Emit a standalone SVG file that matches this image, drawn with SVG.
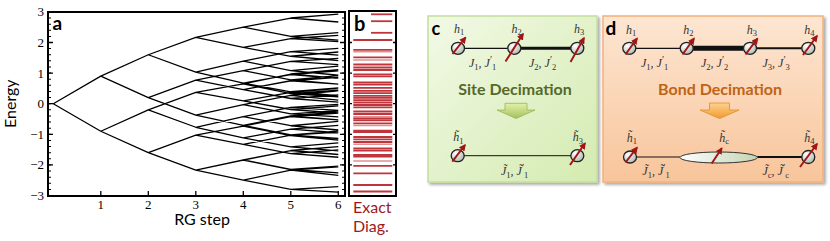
<svg xmlns="http://www.w3.org/2000/svg" width="830" height="241" viewBox="0 0 830 241">
<style>
.ax{fill:none;stroke:#000;stroke-width:2}
.tree{fill:none;stroke:#000;stroke-width:1.3;stroke-linejoin:round}
.tk{font-family:"Liberation Serif",serif;font-size:13px;fill:#000}
.lab{font-family:Lato,"Liberation Sans",sans-serif;font-size:16px;fill:#000}
.red{fill:#a0181b}
.pl{font-family:Lato,"Liberation Sans",sans-serif;font-weight:bold;fill:#000}
.ex{stroke:#b3131b;stroke-width:1.8;opacity:.85}
.exl{stroke:#c9474d;stroke-width:1.6;opacity:.6}
.m{font-family:"Liberation Serif",serif;font-style:italic;font-size:12px;fill:#333}
.s{font-style:normal;font-size:8.5px}
.p{font-style:normal;font-size:10px}
.spin{fill:url(#sg);stroke:#222;stroke-width:1.3}
.arr{stroke:#a31515;stroke-width:2;marker-end:url(#ah)}
.bond{fill:none;stroke:#111}
</style>
<defs>
<marker id="ah" markerUnits="userSpaceOnUse" viewBox="0 0 10 10" markerWidth="7" markerHeight="7" refX="8" refY="5" orient="auto"><path d="M0,0L10,5L0,10z" fill="#a31515"/></marker>
<radialGradient id="sg" cx="0.35" cy="0.3" r="0.8"><stop offset="0" stop-color="#ffffff"/><stop offset="1" stop-color="#aab4aa"/></radialGradient>
<linearGradient id="eg" x1="0" y1="0" x2="1" y2="0"><stop offset="0" stop-color="#ffffff"/><stop offset="1" stop-color="#c3d4b3"/></linearGradient>
<linearGradient id="gc" x1="0" y1="0" x2="1" y2="1"><stop offset="0" stop-color="#f2f9e6"/><stop offset="1" stop-color="#d4ebb0"/></linearGradient>
<linearGradient id="gd" x1="0" y1="0" x2="0" y2="1"><stop offset="0" stop-color="#fde6d2"/><stop offset="1" stop-color="#f8c59b"/></linearGradient>
<linearGradient id="ga" x1="0" y1="0" x2="0" y2="1"><stop offset="0" stop-color="#e4f0aa"/><stop offset="1" stop-color="#a3c15c"/></linearGradient>
<linearGradient id="oa" x1="0" y1="0" x2="0" y2="1"><stop offset="0" stop-color="#fcd38f"/><stop offset="1" stop-color="#f29a30"/></linearGradient>
<filter id="sh" x="-5%" y="-5%" width="115%" height="115%"><feGaussianBlur in="SourceAlpha" stdDeviation="1.5"/><feOffset dx="1.5" dy="2" result="o"/><feComponentTransfer><feFuncA type="linear" slope="0.35"/></feComponentTransfer><feMerge><feMergeNode/><feMergeNode in="SourceGraphic"/></feMerge></filter>
</defs>
<rect width="830" height="241" fill="#fff"/>

<g id="panel-a">
<rect class="ax" x="48" y="12" width="297" height="184"/>
<path fill="none" stroke="#000" stroke-width="1.3" d="M48,42.5h5M48,73.1h5M48,103.7h5M48,134.3h5M48,164.9h5M345,42.5h-5M345,73.1h-5M345,103.7h-5M345,134.3h-5M345,164.9h-5M100.8,196v-5M148.3,196v-5M195.8,196v-5M243.3,196v-5M290.8,196v-5M338.3,196v-5"/>
<line x1="49.5" y1="11.4" x2="49.5" y2="196" stroke="#000" stroke-width="3" stroke-dasharray="1 5.12"/>
<line x1="343.5" y1="11.4" x2="343.5" y2="196" stroke="#000" stroke-width="3" stroke-dasharray="1 5.12"/>
<g class="tk" text-anchor="end">
<text x="44" y="16.4">3</text><text x="44" y="47">2</text><text x="44" y="77.6">1</text><text x="44" y="108.2">0</text><text x="44" y="138.8">−1</text><text x="44" y="169.4">−2</text><text x="44" y="199.5">−3</text>
</g>
<g class="tk" text-anchor="middle" font-size="12.5">
<text x="100.8" y="209">1</text><text x="148.3" y="209">2</text><text x="195.8" y="209">3</text><text x="243.3" y="209">4</text><text x="290.8" y="209">5</text><text x="338.3" y="209">6</text>
</g>
<text class="lab" x="202" y="225" text-anchor="middle">RG step</text>
<text class="lab" transform="translate(15.5,103.7) rotate(-90)" text-anchor="middle">Energy</text>
<text class="pl" x="52.5" y="30" font-size="19">a</text>
<path class="tree" d="M100.8,76.16 L53.3,103.7 L100.8,131.24
M148.3,54.74 L100.8,76.16 L148.3,97.58 M148.3,109.82 L100.8,131.24 L148.3,152.66
M195.8,37.3 L148.3,54.74 L195.8,72.18 M195.8,80.14 L148.3,97.58 L195.8,115.02 M195.8,92.38 L148.3,109.82 L195.8,127.26 M195.8,135.22 L148.3,152.66 L195.8,170.1
M243.3,27.2 L195.8,37.3 L243.3,47.4 M243.3,61.17 L195.8,72.18 L243.3,83.2 M243.3,70.65 L195.8,80.14 L243.3,89.62 M243.3,104.62 L195.8,115.02 L243.3,125.43 M243.3,83.81 L195.8,92.38 L243.3,100.95 M243.3,116.55 L195.8,127.26 L243.3,137.97 M243.3,126.04 L195.8,135.22 L243.3,144.4 M243.3,160 L195.8,170.1 L243.3,180.2
M290.8,18.02 L243.3,27.2 L290.8,36.38 M290.8,38.52 L243.3,47.4 L290.8,56.27 M290.8,51.68 L243.3,61.17 L290.8,70.65 M290.8,74.63 L243.3,83.2 L290.8,91.77 M290.8,61.47 L243.3,70.65 L290.8,79.83 M290.8,80.75 L243.3,89.62 L290.8,98.5 M290.8,95.44 L243.3,104.62 L290.8,113.8 M290.8,115.94 L243.3,125.43 L290.8,134.91 M290.8,74.02 L243.3,83.81 L290.8,93.6 M290.8,92.38 L243.3,100.95 L290.8,109.51 M290.8,107.37 L243.3,116.55 L290.8,125.73 M290.8,129.1 L243.3,137.97 L290.8,146.85 M290.8,116.55 L243.3,126.04 L290.8,135.52 M290.8,135.22 L243.3,144.4 L290.8,153.58 M290.8,150.52 L243.3,160 L290.8,169.49 M290.8,170.02 L243.3,180.2 L290.8,189.38
M338.3,14.04 L290.8,18.02 L338.3,22 M338.3,32.71 L290.8,36.38 L338.3,40.05 M338.3,35.46 L290.8,38.52 L338.3,41.58 M338.3,51.99 L290.8,56.27 L338.3,60.55 M338.3,48.31 L290.8,51.68 L338.3,55.05 M338.3,66.06 L290.8,70.65 L338.3,75.24 M338.3,70.96 L290.8,74.63 L338.3,78.3 M338.3,87.79 L290.8,91.77 L338.3,95.74 M338.3,58.41 L290.8,61.47 L338.3,64.53 M338.3,75.55 L290.8,79.83 L338.3,84.12 M338.3,77.38 L290.8,80.75 L338.3,84.12 M338.3,94.83 L290.8,98.5 L338.3,102.17 M338.3,90.85 L290.8,95.44 L338.3,100.03 M338.3,110.74 L290.8,113.8 L338.3,116.86 M338.3,111.96 L290.8,115.94 L338.3,119.92 M338.3,131.24 L290.8,134.91 L338.3,138.58 M338.3,69.73 L290.8,74.02 L338.3,78.3 M338.3,90.24 L290.8,93.6 L338.3,96.97 M338.3,88.4 L290.8,92.38 L338.3,96.36 M338.3,105.84 L290.8,109.51 L338.3,113.19 M338.3,104.31 L290.8,107.37 L338.3,110.43 M338.3,121.45 L290.8,125.73 L338.3,130.02 M338.3,125.43 L290.8,129.1 L338.3,132.77 M338.3,142.87 L290.8,146.85 L338.3,150.82 M338.3,113.19 L290.8,116.55 L338.3,119.92 M338.3,130.93 L290.8,135.52 L338.3,140.11 M338.3,132.16 L290.8,135.22 L338.3,138.28 M338.3,149.91 L290.8,153.58 L338.3,157.25 M338.3,146.54 L290.8,150.52 L338.3,154.5 M338.3,166.12 L290.8,169.49 L338.3,172.86 M338.3,166.74 L290.8,170.02 L338.3,175.3 M338.3,186.63 L290.8,189.38 L338.3,192.13"/>
</g>

<g id="panel-b">
<g class="ex">
<line x1="371" y1="14.3" x2="392.3" y2="14.3"/><line x1="371" y1="21.2" x2="392.3" y2="21.2"/><line x1="371" y1="32.8" x2="392.3" y2="32.8"/>
<line x1="353.3" y1="40" x2="392.3" y2="40"/><line x1="353.3" y1="49.8" x2="392.3" y2="49.8"/><line x1="353.3" y1="57.3" x2="392.3" y2="57.3"/><line x1="353.3" y1="64.5" x2="392.3" y2="64.5"/><line x1="353.3" y1="67.5" x2="392.3" y2="67.5"/><line x1="353.3" y1="70" x2="392.3" y2="70"/><line x1="353.3" y1="74.3" x2="392.3" y2="74.3"/><line x1="353.3" y1="76.3" x2="392.3" y2="76.3"/><line x1="353.3" y1="82.3" x2="392.3" y2="82.3"/><line x1="353.3" y1="84.5" x2="392.3" y2="84.5"/><line x1="353.3" y1="87.8" x2="392.3" y2="87.8"/><line x1="353.3" y1="90.8" x2="392.3" y2="90.8"/><line x1="353.3" y1="93.2" x2="392.3" y2="93.2"/><line x1="353.3" y1="95.8" x2="392.3" y2="95.8"/><line x1="353.3" y1="97.8" x2="392.3" y2="97.8"/><line x1="353.3" y1="100.2" x2="392.3" y2="100.2"/><line x1="353.3" y1="102.5" x2="392.3" y2="102.5"/><line x1="353.3" y1="105" x2="392.3" y2="105"/><line x1="353.3" y1="107.3" x2="392.3" y2="107.3"/><line x1="353.3" y1="111.5" x2="392.3" y2="111.5"/><line x1="353.3" y1="114" x2="392.3" y2="114"/><line x1="353.3" y1="118.5" x2="392.3" y2="118.5"/><line x1="353.3" y1="120.3" x2="392.3" y2="120.3"/><line x1="353.3" y1="123.3" x2="392.3" y2="123.3"/><line x1="353.3" y1="130.7" x2="392.3" y2="130.7"/><line x1="353.3" y1="132" x2="392.3" y2="132"/><line x1="353.3" y1="137" x2="392.3" y2="137"/><line x1="353.3" y1="139.3" x2="392.3" y2="139.3"/><line x1="353.3" y1="142" x2="392.3" y2="142"/><line x1="353.3" y1="148.3" x2="392.3" y2="148.3"/><line x1="353.3" y1="150.5" x2="392.3" y2="150.5"/><line x1="353.3" y1="155" x2="392.3" y2="155"/><line x1="353.3" y1="156.7" x2="392.3" y2="156.7"/><line x1="353.3" y1="165.8" x2="392.3" y2="165.8"/><line x1="353.3" y1="173.3" x2="392.3" y2="173.3"/><line x1="353.3" y1="185" x2="392.3" y2="185"/><line x1="353.3" y1="191.5" x2="392.3" y2="191.5"/>
</g>
<g class="exl">
<line x1="353.3" y1="51.8" x2="392.3" y2="51.8"/><line x1="353.3" y1="60" x2="392.3" y2="60"/><line x1="353.3" y1="116.7" x2="392.3" y2="116.7"/><line x1="353.3" y1="125.5" x2="392.3" y2="125.5"/><line x1="353.3" y1="144.3" x2="392.3" y2="144.3"/><line x1="353.3" y1="161" x2="392.3" y2="161"/>
</g>
<rect class="ax" x="349" y="11" width="47" height="185"/>
<path fill="none" stroke="#000" stroke-width="1.3" d="M349,42.5h3M349,73.1h3M349,103.7h3M349,134.3h3M349,164.9h3M396,42.5h-3M396,73.1h-3M396,103.7h-3M396,134.3h-3M396,164.9h-3"/>
<text class="pl" x="354" y="31.3" font-size="20">b</text>
<text class="lab red" x="353" y="212.5">Exact</text>
<text class="lab red" x="353" y="231.5">Diag.</text>
</g>

<g id="panel-c">
<rect x="428" y="16" width="169" height="166" fill="url(#gc)" stroke="#c4de9e" stroke-width="1.5" filter="url(#sh)"/>
<text class="pl" x="431.5" y="35" font-size="18">c</text>
<g id="c-bonds">
<line class="bond" x1="464" y1="48.3" x2="508" y2="48.3" stroke-width="1.3"/>
<line class="bond" x1="520" y1="48.3" x2="571" y2="48.3" stroke-width="3"/>
<line class="bond" x1="464" y1="155.7" x2="571" y2="155.7" stroke-width="1" stroke="#444"/>
</g>
<g id="c-s1"><ellipse class="spin" cx="458" cy="48.3" rx="6.5" ry="6"/><line class="arr" x1="452.5" y1="54" x2="465.5" y2="37.5"/><text class="m" x="454" y="32.5">h<tspan class="s" dy="2.5">1</tspan></text></g>
<g id="c-s2"><ellipse class="spin" cx="514.3" cy="48.3" rx="6.5" ry="6"/><line class="arr" x1="505.5" y1="61.5" x2="523" y2="34"/><text class="m" x="511.5" y="32.5">h<tspan class="s" dy="2.5">2</tspan></text></g>
<g id="c-s3"><ellipse class="spin" cx="577.3" cy="48.3" rx="6.5" ry="6"/><line class="arr" x1="570.5" y1="62" x2="584" y2="38"/><text class="m" x="574" y="32.5">h<tspan class="s" dy="2.5">3</tspan></text></g>
<text class="m" x="469" y="67">J<tspan class="s" dy="2.5">1</tspan><tspan dy="-2.5">, J</tspan><tspan class="p" dy="-4">′</tspan><tspan class="s" dy="6.5">1</tspan></text>
<text class="m" x="529" y="67">J<tspan class="s" dy="2.5">2</tspan><tspan dy="-2.5">, J</tspan><tspan class="p" dy="-4">′</tspan><tspan class="s" dy="6.5">2</tspan></text>
<text x="515" y="95" text-anchor="middle" font-family="Lato,'Liberation Sans',sans-serif" font-weight="bold" font-size="16" fill="#56692a">Site Decimation</text>
<polygon points="505,103.3 527,103.3 527,110 535,110 516,118.5 497,110 505,110" fill="url(#ga)" stroke="#98b556" stroke-width="0.8"/>
<g id="c-t1"><ellipse class="spin" cx="457.7" cy="155.7" rx="6.5" ry="6"/><line class="arr" x1="452.3" y1="161.7" x2="465" y2="145"/><text class="m" x="453.3" y="141">h&#x303;<tspan class="s" dy="2.5">1</tspan></text></g>
<g id="c-t3"><ellipse class="spin" cx="577.3" cy="155.7" rx="6.5" ry="6"/><line class="arr" x1="570" y1="165" x2="585" y2="143.3"/><text class="m" x="572.7" y="141">h&#x303;<tspan class="s" dy="2.5">3</tspan></text></g>
<text class="m" x="501" y="175">J&#x303;<tspan class="s" dy="2.5">1</tspan><tspan dy="-2.5">, J&#x303;</tspan><tspan class="p" dy="-4">′</tspan><tspan class="s" dy="6.5">1</tspan></text>
</g>

<g id="panel-d">
<rect x="603" y="16" width="220" height="166" fill="url(#gd)" stroke="#f3b07a" stroke-width="1.5" filter="url(#sh)"/>
<text class="pl" x="605.5" y="35" font-size="19">d</text>
<g id="d-bonds">
<line class="bond" x1="636" y1="48.3" x2="680" y2="48.3" stroke-width="1.2" stroke="#777"/>
<line class="bond" x1="693" y1="48.3" x2="743.5" y2="48.3" stroke-width="5"/>
<line class="bond" x1="756.5" y1="48.3" x2="802" y2="48.3" stroke-width="2"/>
<line class="bond" x1="636.5" y1="157" x2="680" y2="157" stroke-width="1" stroke="#444"/>
<line class="bond" x1="757.3" y1="157" x2="802" y2="157" stroke-width="2.2"/>
</g>
<g id="d-s1"><ellipse class="spin" cx="629.3" cy="48.3" rx="6.5" ry="6"/><line class="arr" x1="625.5" y1="54.5" x2="637" y2="38.5"/><text class="m" x="626" y="33.5">h<tspan class="s" dy="2.5">1</tspan></text></g>
<g id="d-s2"><ellipse class="spin" cx="686.7" cy="48.3" rx="6.5" ry="6"/><line class="arr" x1="682.5" y1="54.5" x2="694" y2="38.5"/><text class="m" x="683.3" y="33.5">h<tspan class="s" dy="2.5">2</tspan></text></g>
<g id="d-s3"><ellipse class="spin" cx="750" cy="48.3" rx="6.5" ry="6"/><line class="arr" x1="745.5" y1="54.5" x2="757.5" y2="38.5"/><text class="m" x="746.7" y="33.5">h<tspan class="s" dy="2.5">3</tspan></text></g>
<g id="d-s4"><ellipse class="spin" cx="808.3" cy="48.3" rx="6.5" ry="6"/><line class="arr" x1="803" y1="55" x2="817" y2="36"/><text class="m" x="804.3" y="33.5">h<tspan class="s" dy="2.5">4</tspan></text></g>
<text class="m" x="641" y="67">J<tspan class="s" dy="2.5">1</tspan><tspan dy="-2.5">, J</tspan><tspan class="p" dy="-4">′</tspan><tspan class="s" dy="6.5">1</tspan></text>
<text class="m" x="701" y="67">J<tspan class="s" dy="2.5">2</tspan><tspan dy="-2.5">, J</tspan><tspan class="p" dy="-4">′</tspan><tspan class="s" dy="6.5">2</tspan></text>
<text class="m" x="762.5" y="67">J<tspan class="s" dy="2.5">3</tspan><tspan dy="-2.5">, J</tspan><tspan class="p" dy="-4">′</tspan><tspan class="s" dy="6.5">3</tspan></text>
<text x="720" y="95" text-anchor="middle" font-family="Lato,'Liberation Sans',sans-serif" font-weight="bold" font-size="16" fill="#bf6415">Bond Decimation</text>
<polygon points="709.5,103 729.5,103 729.5,110 739,110 719.5,118.5 700,110 709.5,110" fill="url(#oa)" stroke="#e38a2b" stroke-width="0.8"/>
<g id="d-t1"><ellipse class="spin" cx="630" cy="157" rx="6.5" ry="6"/><line class="arr" x1="625.5" y1="162.5" x2="637" y2="147.5"/><text class="m" x="626.7" y="141.7">h&#x303;<tspan class="s" dy="2.5">1</tspan></text></g>
<g id="d-tc"><ellipse cx="718.7" cy="157.5" rx="38.7" ry="5.5" fill="url(#eg)" stroke="#333" stroke-width="1"/><line class="arr" x1="711.7" y1="163.5" x2="721.7" y2="148.3"/><text class="m" x="719.3" y="141.7">h&#x303;<tspan class="s" dy="2.5">c</tspan></text></g>
<g id="d-t4"><ellipse class="spin" cx="808.3" cy="157" rx="6.5" ry="6.5"/><line class="arr" x1="800" y1="167" x2="817" y2="144"/><text class="m" x="804.3" y="141.7">h&#x303;<tspan class="s" dy="2.5">4</tspan></text></g>
<text class="m" x="642.3" y="175">J&#x303;<tspan class="s" dy="2.5">1</tspan><tspan dy="-2.5">, J&#x303;</tspan><tspan class="p" dy="-4">′</tspan><tspan class="s" dy="6.5">1</tspan></text>
<text class="m" x="762.5" y="175">J&#x303;<tspan class="s" dy="2.5">c</tspan><tspan dy="-2.5">, J&#x303;</tspan><tspan class="p" dy="-4">′</tspan><tspan class="s" dy="6.5">c</tspan></text>
</g>
</svg>
